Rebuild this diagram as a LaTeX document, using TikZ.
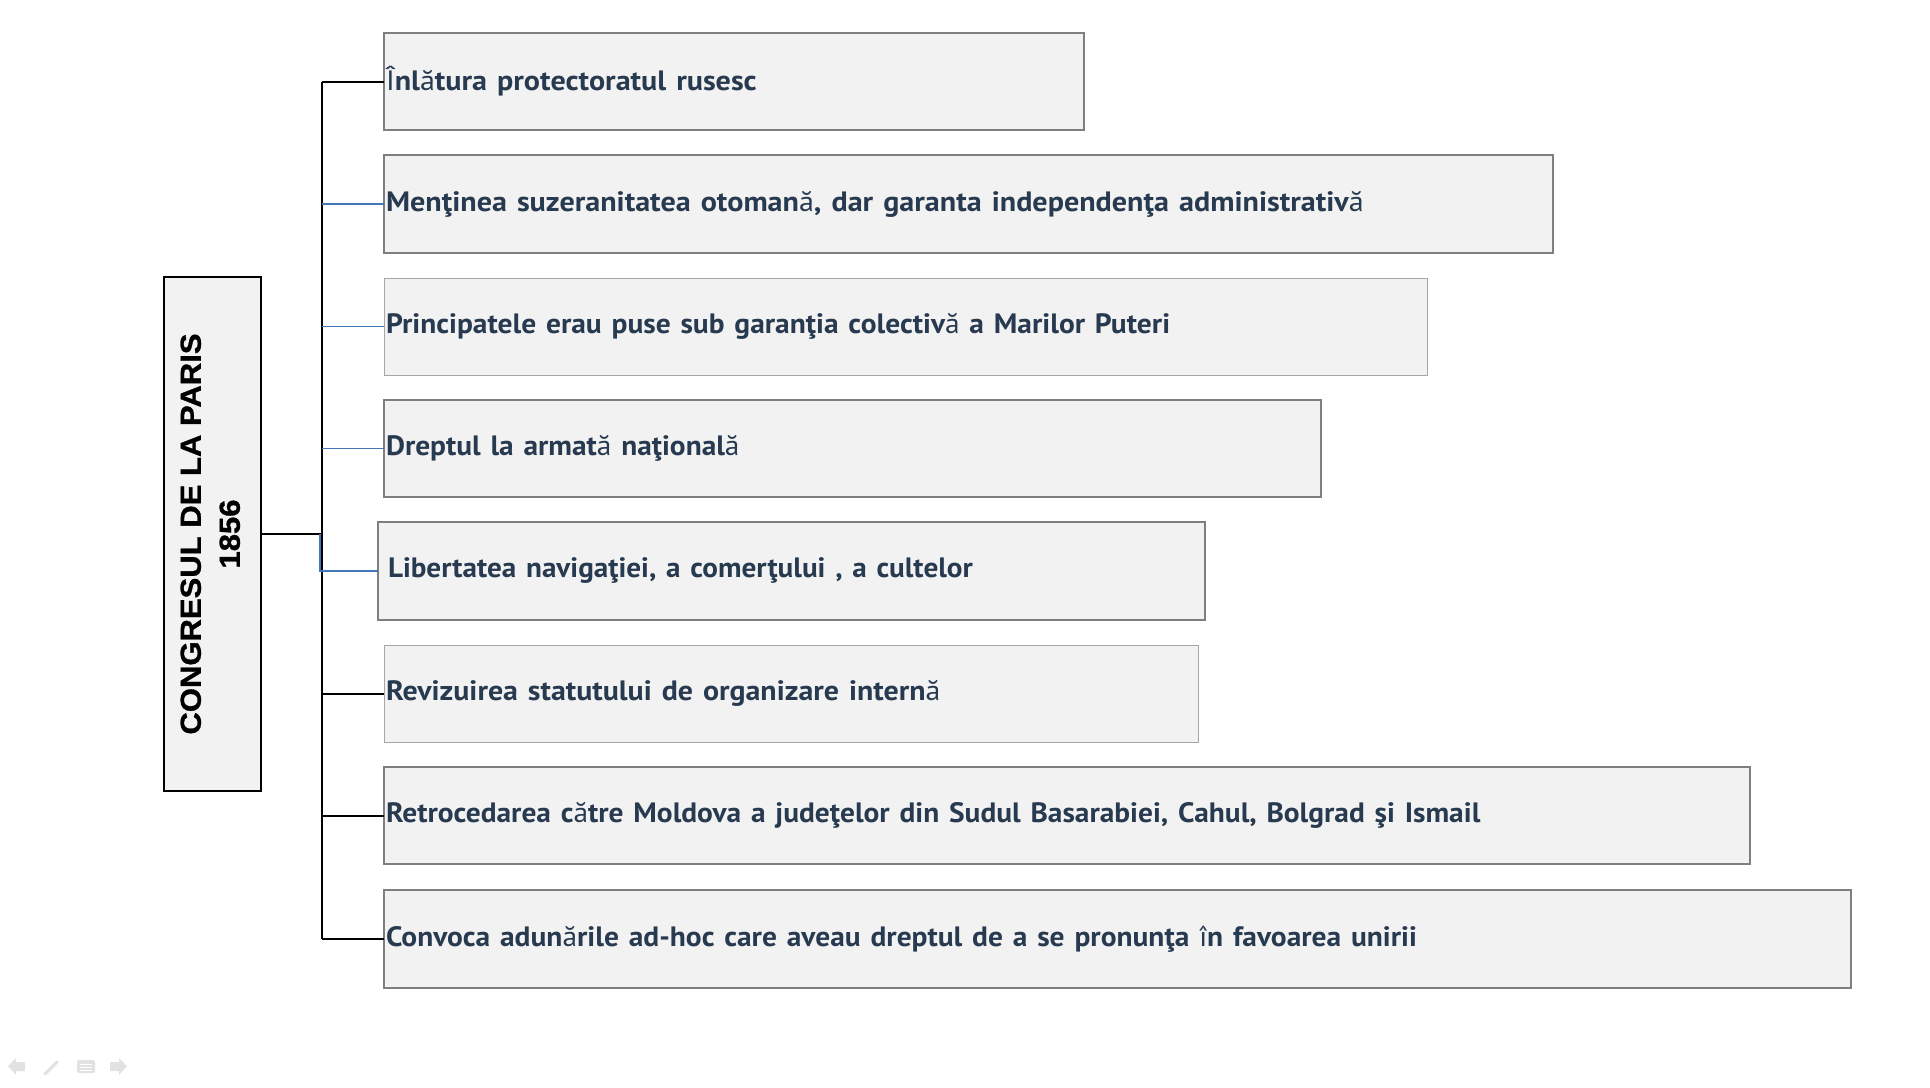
\documentclass[tikz,border=0pt]{standalone}
\usepackage{fontspec}
\setmainfont{PT Sans}
\newfontfamily\lbfont[FakeBold=1]{Liberation Sans Bold}
\usetikzlibrary{calc}
\definecolor{txt}{HTML}{283A50}
\definecolor{boxfill}{HTML}{F2F2F2}
\definecolor{bordergray}{HTML}{7F7F7F}
\definecolor{lightborder}{HTML}{A6A6A6}
\definecolor{linkblue}{HTML}{4377B6}
\definecolor{navgray}{HTML}{E2E2E2}
\newcommand\rg[1]{{\mdseries #1}}
\newcommand\tx[2][1.075]{\scalebox{#1}[1]{#2}}
\tikzset{
  item/.style={rectangle, fill=boxfill, draw=bordergray, anchor=north west,
    minimum height=97pt, inner xsep=2pt, inner ysep=0pt, outer sep=0pt,
    align=left, text=txt, font=\fontsize{28}{32}\selectfont\bfseries},
  thickb/.style={line width=2.6pt},
  midb/.style={line width=1.8pt},
  thinb/.style={line width=1pt, draw=lightborder},
  blackline/.style={draw=black, line width=2pt},
  blueline/.style={draw=linkblue, line width=1.8pt},
}
\begin{document}
\begin{tikzpicture}[x=1pt,y=-1pt]
\useasboundingbox (0,0) rectangle (1930,1087);
\fill[white] (0,0) rectangle (1930,1087);

\node[item, thickb, text width=696pt] (b1) at (384,33) {\tx{\rg{Î}nl\rg{ă}tura protectoratul rusesc}};
\node[item, thickb, text width=1165pt, minimum height=98pt] (b2) at (384,155) {\tx{Menţinea suzeranitatea otoman\rg{ă}, dar garanta independenţa administrativ\rg{ă}}};
\node[item, thinb, text width=1039pt] (b3) at (384,278) {\tx[1.052]{Principatele erau puse sub garanţia colectiv\rg{ă} a Marilor Puteri}};
\node[item, midb, text width=933pt] (b4) at (384,400) {\tx[1.049]{Dreptul la armat\rg{ă} naţional\rg{ă}}};
\node[item, thickb, text width=807pt, inner xsep=10pt, minimum height=98pt] (b5) at (378,522) {\tx[1.042]{Libertatea navigaţiei, a comerţului , a cultelor}};
\node[item, thinb, text width=810pt] (b6) at (384,645) {\tx[1.068]{Revizuirea statutului de organizare intern\rg{ă}}};
\node[item, midb, text width=1362pt] (b7) at (384,767) {\tx[1.05]{Retrocedarea c\rg{ă}tre Moldova a judeţelor din Sudul Basarabiei, Cahul, Bolgrad şi Ismail}};
\node[item, thickb, text width=1463pt, minimum height=98pt] (b8) at (384,890) {\tx[1.052]{Convoca adun\rg{ă}rile ad-hoc care aveau dreptul de a se pronunţa \rg{î}n favoarea unirii}};

\node[rectangle, draw=black, line width=2pt, fill=boxfill, minimum width=97pt,
  minimum height=514pt, inner sep=0pt, outer sep=0pt] (L) at (212.5,534)
  {\rotatebox{90}{\lbfont\fontsize{29}{39}\selectfont
   \begin{tabular}{@{}c@{}}\scalebox{1.07}[1]{CONGRESUL DE LA PARIS}\\\scalebox{1.07}[1]{1856}\end{tabular}}};

\coordinate (trunk) at (322,0);
\draw[blackline] (b1.west -| trunk) -- (b8.west -| trunk);
\foreach \i in {1,6,7,8} {\draw[blackline] (b\i.west -| trunk) -- (b\i.west);}
\foreach \i in {2,3,4} {\draw[blueline] (b\i.west -| trunk) -- (b\i.west);}
\draw[blackline] (L.east) -- (L.east -| trunk);
\draw[blueline] ($(L.east -| trunk)+(-2,0)$) |- (b5.west);

% faint slideshow navigation icons
\fill[navgray] (8,1066) -- (16,1058) -- (16,1062) -- (25,1062) -- (25,1071) -- (16,1071) -- (16,1075) -- cycle;
\draw[navgray, line width=3pt, line cap=round] (45,1074) -- (57,1062);
\fill[navgray, rounded corners=2pt] (77,1060) rectangle (95,1073);
\draw[white, line width=0.8pt] (80,1064) -- (92,1064) (80,1067) -- (92,1067) (80,1070) -- (92,1070);
\fill[navgray] (127,1066) -- (119,1058) -- (119,1062) -- (110,1062) -- (110,1071) -- (119,1071) -- (119,1075) -- cycle;
\end{tikzpicture}
\end{document}
